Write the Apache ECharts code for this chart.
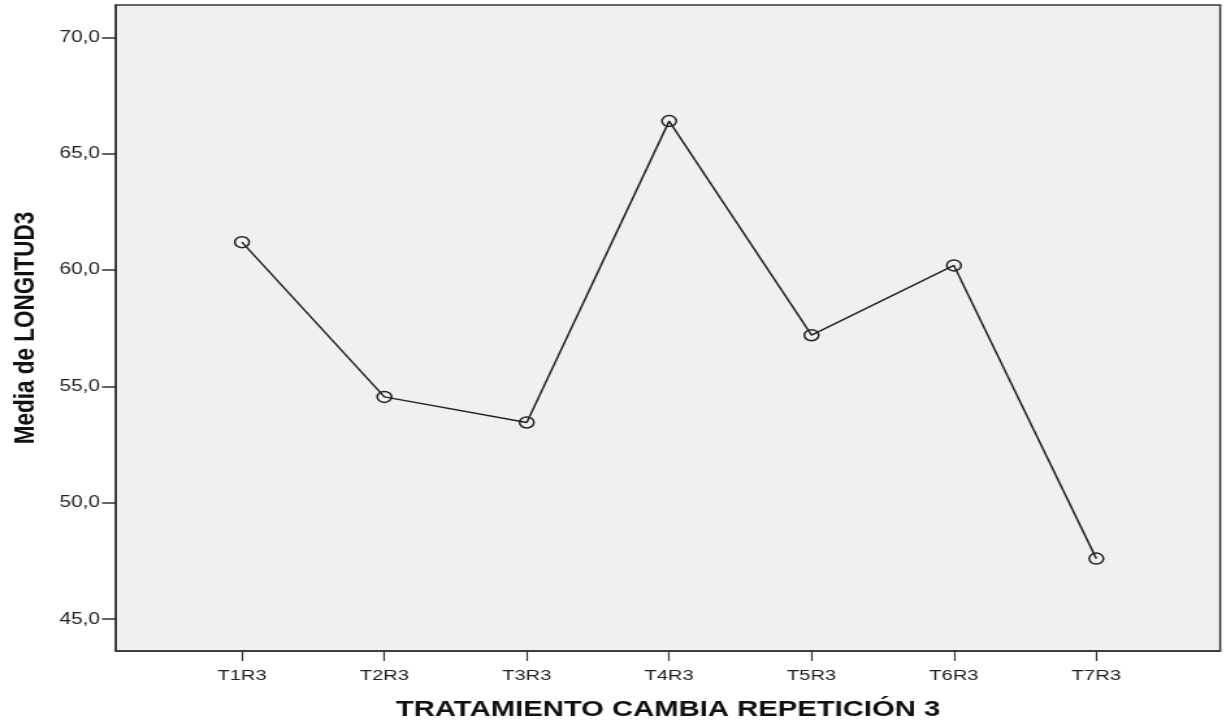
<!DOCTYPE html>
<html>
<head>
<meta charset="utf-8">
<script src="https://cdn.jsdelivr.net/npm/echarts@6/dist/echarts.min.js"></script>
<style>
  html, body { margin: 0; padding: 0; background: #fff; overflow: hidden; }
  /* el gráfico original está estirado en horizontal */
  #chart { width: 944px; height: 726px; transform: scaleX(1.3); transform-origin: 0 0; }
</style>
</head>
<body>
<div id="chart"></div>
<script>
// datos
const categorias = ['T1R3', 'T2R3', 'T3R3', 'T4R3', 'T5R3', 'T6R3', 'T7R3'];
const medias = [61.2, 54.55, 53.45, 66.4, 57.2, 60.2, 47.6];
const marcasY = [45, 50, 55, 60, 65, 70];

const chart = echarts.init(document.getElementById('chart'));

const fuente = '"Liberation Sans", Arial, sans-serif';
const posX = categorias.map((c, i) => i);

const option = {
  animation: false,
  grid: {
    left: 89.2,
    right: 5.4,
    top: 5,
    bottom: 68,
    show: true,
    backgroundColor: '#f0f0f0',
    borderColor: '#333',
    borderWidth: 1.5
  },
  xAxis: {
    type: 'value',
    min: -0.885,
    max: 6.87,
    name: 'TRATAMIENTO CAMBIA REPETICIÓN 3',
    nameLocation: 'middle',
    nameGap: 47,
    nameTextStyle: { fontFamily: fuente, fontSize: 22.5, fontWeight: 'bold', color: '#111' },
    splitLine: { show: false },
    axisLine: { show: true, onZero: false, lineStyle: { color: '#333', width: 1.5 } },
    axisTick: {
      show: true,
      length: 10,
      customValues: posX,
      lineStyle: { color: '#333', width: 1.2 }
    },
    axisLabel: {
      customValues: posX,
      margin: 17,
      fontFamily: fuente,
      fontSize: 15.5,
      color: '#222',
      formatter: v => categorias[Math.round(v)] || ''
    }
  },
  yAxis: {
    type: 'value',
    min: 43.63,
    max: 71.39,
    name: 'Media de LONGITUD3',
    nameLocation: 'middle',
    nameGap: 58,
    nameTextStyle: { fontFamily: fuente, fontSize: 22.5, fontWeight: 'bold', color: '#111' },
    splitLine: { show: false },
    axisLine: { show: true, onZero: false, lineStyle: { color: '#333', width: 1.5 } },
    axisTick: {
      show: true,
      length: 10.8,
      customValues: marcasY,
      lineStyle: { color: '#333', width: 1.5 }
    },
    axisLabel: {
      customValues: marcasY,
      margin: 12.3,
      fontFamily: fuente,
      fontSize: 16,
      color: '#222',
      formatter: v => v.toFixed(1).replace('.', ',')
    }
  },
  series: [
    {
      type: 'line',
      data: medias.map((v, i) => [i, v]),
      symbol: 'circle',
      symbolSize: 11,
      itemStyle: { color: 'rgba(0,0,0,0)', borderColor: '#222', borderWidth: 1.5 },
      lineStyle: { color: '#222', width: 1.5 },
      z: 3
    }
  ]
};

chart.setOption(option);

window.addEventListener('resize', () => {
  chart.resize();
});
</script>
</body>
</html>
